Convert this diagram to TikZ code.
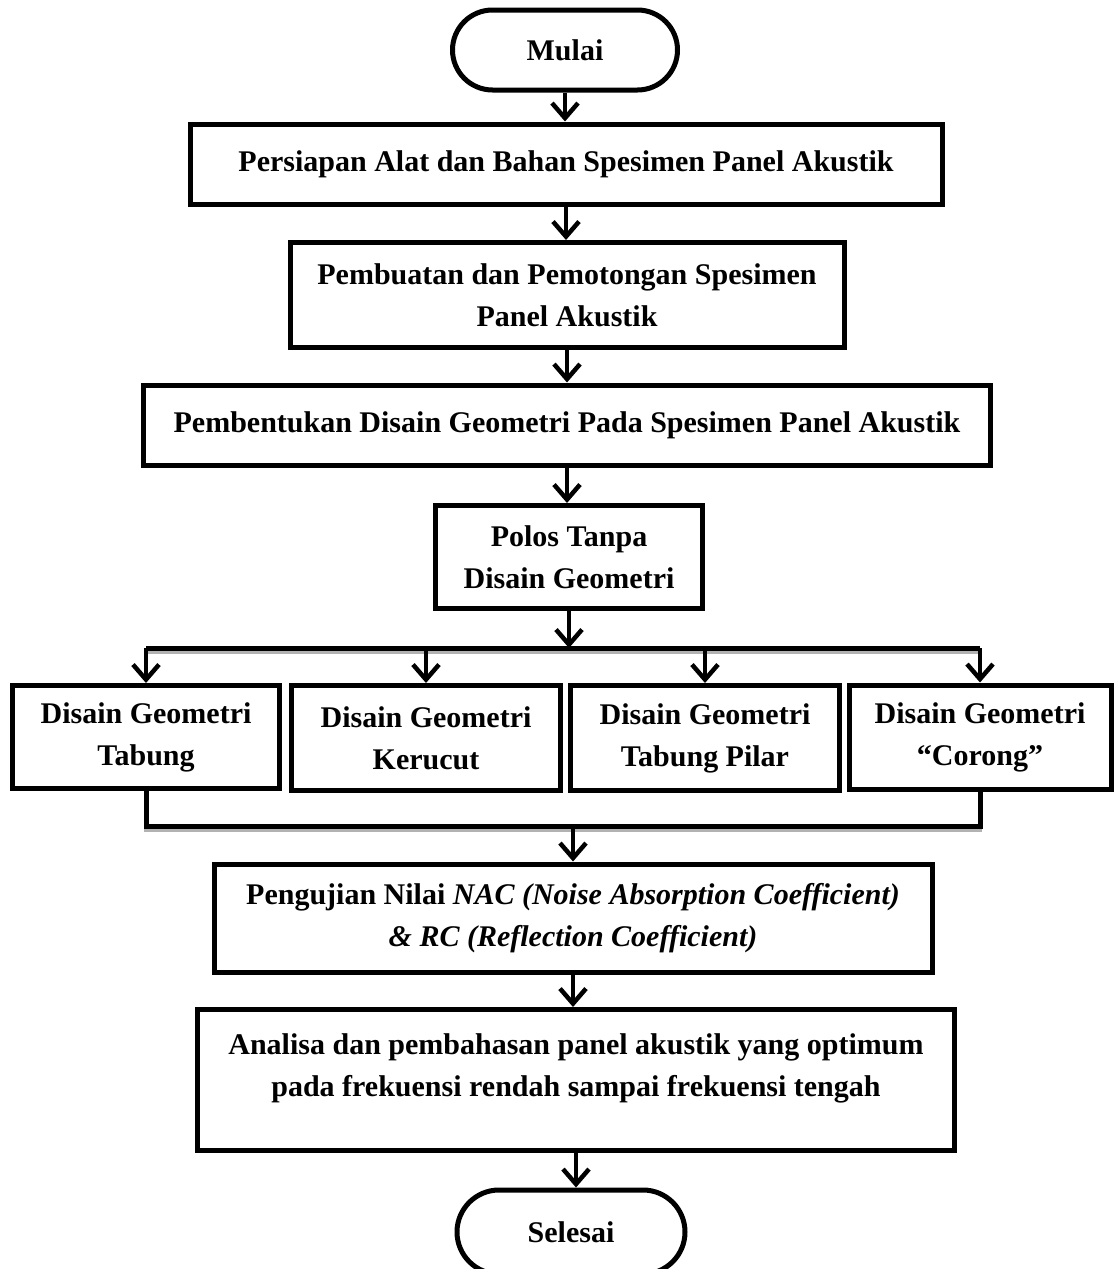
\documentclass[tikz,border=0pt]{standalone}
\usepackage{fontspec}
\setmainfont{Liberation Serif}
\usetikzlibrary{arrows.meta}
\begin{document}
\begin{tikzpicture}[x=1pt,y=-1pt,
  every node/.style={font=\fontsize{30}{42}\selectfont\bfseries, align=center, inner sep=0pt},
  box/.style={draw, line width=5pt, rectangle},
  term/.style={draw, line width=5pt, rectangle, rounded corners=40pt},
  arr/.style={line width=4.5pt, -{Straight Barb[length=15pt,width=26pt]}},
  link/.style={line width=5pt},
  bar/.style={line width=5pt, preaction={draw=black!30, line width=4pt, transform canvas={yshift=-4pt}}}
]
\useasboundingbox (0,0) rectangle (1115,1269);

\node[term, minimum width=225pt, minimum height=80pt] (mulai) at (565,50) {Mulai};
\node[box, minimum width=752pt, minimum height=80pt] (persiapan) at (566,164) {Persiapan Alat dan Bahan Spesimen Panel Akustik};
\node[box, minimum width=554pt, minimum height=105pt] (pembuatan) at (567,295) {Pembuatan dan Pemotongan Spesimen\\Panel Akustik};
\node[box, minimum width=847pt, minimum height=80pt] (pembentukan) at (567,425) {Pembentukan Disain Geometri Pada Spesimen Panel Akustik};
\node[box, minimum width=267pt, minimum height=103pt] (polos) at (569,557) {Polos Tanpa\\Disain Geometri};

\node[box, minimum width=267pt, minimum height=103pt] (tabung) at (146,737) {Disain Geometri\\Tabung};
\node[box, minimum width=269pt, minimum height=105pt] (kerucut) at (426,738) {Disain Geometri\\Kerucut};
\node[box, minimum width=269pt, minimum height=105pt] (pilar) at (705,738) {Disain Geometri\\Tabung Pilar};
\node[box, minimum width=262pt, minimum height=104pt] (corong) at (980,737) {Disain Geometri\\“Corong”};

\node[box, minimum width=718pt, minimum height=108pt] (pengujian) at (573,918) {Pengujian Nilai \textit{NAC (Noise Absorption Coefficient)}\\\textit{\& RC (Reflection Coefficient)}};
\node[box, minimum width=757pt, minimum height=141pt] (analisa) at (576,1080) {};
\node (analisaT) at (576,1068) {Analisa dan pembahasan panel akustik yang optimum\\pada frekuensi rendah sampai frekuensi tengah};
\node[term, minimum width=228pt, minimum height=84pt, rounded corners=42pt] (selesai) at (571,1232) {Selesai};

\coordinate (bar1) at (566,648);
\coordinate (botbar) at (571,826);

\draw[arr] (mulai.south) -- (mulai.south |- persiapan.north);
\draw[arr] (persiapan.south) -- (persiapan.south |- pembuatan.north);
\draw[arr] (pembuatan.south) -- (pembuatan.south |- pembentukan.north);
\draw[arr] (pembentukan.south) -- (pembentukan.south |- polos.north);
\draw[bar] (tabung.north |- bar1) -- (corong.north |- bar1);
\draw[arr] (polos.south) -- (polos.south |- bar1);
\draw[arr] (tabung.north |- bar1) -- (tabung.north);
\draw[arr] (kerucut.north |- bar1) -- (kerucut.north);
\draw[arr] (pilar.north |- bar1) -- (pilar.north);
\draw[arr] (corong.north |- bar1) -- (corong.north);

\draw[bar] (tabung.south) -- (tabung.south |- botbar) -- (corong.south |- botbar) -- (corong.south);
\draw[arr] (pengujian.north |- botbar) -- (pengujian.north);
\draw[arr] (pengujian.south) -- (pengujian.south |- analisa.north);
\draw[arr] (analisa.south) -- (analisa.south |- selesai.north);
\end{tikzpicture}
\end{document}
